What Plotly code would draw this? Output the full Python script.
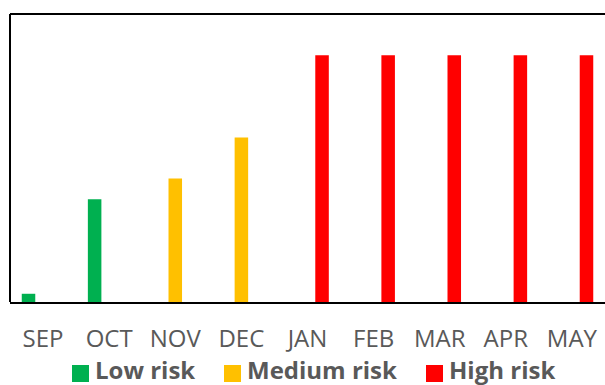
import plotly.graph_objects as go

# Monthly risk levels
months = ["SEP", "OCT", "NOV", "DEC", "JAN", "FEB", "MAR", "APR", "MAY"]
low_risk = [0.2, 2.5, None, None, None, None, None, None, None]
medium_risk = [None, None, 3, 4, None, None, None, None, None]
high_risk = [None, None, None, None, 6, 6, 6, 6, 6]

series_names = ["Low risk", "Medium risk", "High risk"]
series_values = [low_risk, medium_risk, high_risk]
series_colors = ["#00B050", "#FFC000", "#FF0000"]

W, H = 605, 385
M_L, M_R, M_T, M_B = 10, 0, 14, 83
PW, PH = W - M_L - M_R, H - M_T - M_B


def px_x(x):
    """Pixel column -> paper x."""
    return (x - M_L) / PW


def px_y(y):
    """Pixel row -> paper y."""
    return (H - M_B - y) / PH


fig = go.Figure()
for name, vals, color in zip(series_names, series_values, series_colors):
    fig.add_trace(go.Bar(
        x=months, y=vals, name=name, marker_color=color,
        marker_line_width=0, showlegend=False,
    ))

shapes = [
    # keep the right side of the frame open
    dict(type="rect", xref="paper", yref="paper", x0=px_x(600), x1=px_x(W + 2),
         y0=0.003, y1=0.997, fillcolor="white", line=dict(width=0), layer="above"),
    # frame: top and left edges (bottom edge is the x axis line)
    dict(type="line", xref="paper", yref="paper", x0=0, x1=1, y0=1, y1=1,
         line=dict(color="black", width=2)),
    dict(type="line", xref="paper", yref="paper", x0=0, x1=0, y0=0, y1=1,
         line=dict(color="black", width=2)),
]
annotations = []

# Legend row: coloured square followed by a bold label
legend_swatch_left = [72, 224, 426]
for name, color, left in zip(series_names, series_colors, legend_swatch_left):
    shapes.append(dict(
        type="rect", xref="paper", yref="paper",
        x0=px_x(left), x1=px_x(left + 17), y0=px_y(382), y1=px_y(365),
        fillcolor=color, line=dict(width=0),
    ))
    annotations.append(dict(
        text=name, xref="paper", yref="paper", showarrow=False,
        x=px_x(left + 21), xanchor="left", y=px_y(369), yanchor="middle",
        font=dict(size=24, family="Open Sans", weight="bold", color="#595959"),
    ))

fig.update_layout(
    width=W, height=H,
    margin=dict(l=M_L, r=M_R, t=M_T, b=M_B),
    paper_bgcolor="white", plot_bgcolor="white",
    barmode="group", bargap=0.34, bargroupgap=0.07,
    font=dict(family="Open Sans", color="#595959"),
    showlegend=False,
    shapes=shapes,
    annotations=annotations,
)
fig.update_xaxes(
    type="category", categoryorder="array", categoryarray=months,
    showline=True, linecolor="black", linewidth=2, mirror=False,
    ticks="", tickfont=dict(size=24, color="#595959"), ticklabelstandoff=14,
    showgrid=False,
)
fig.update_yaxes(
    range=[0, 7], visible=False, showgrid=False, zeroline=False,
)

fig.write_html("out.html", config={"staticPlot": True})
